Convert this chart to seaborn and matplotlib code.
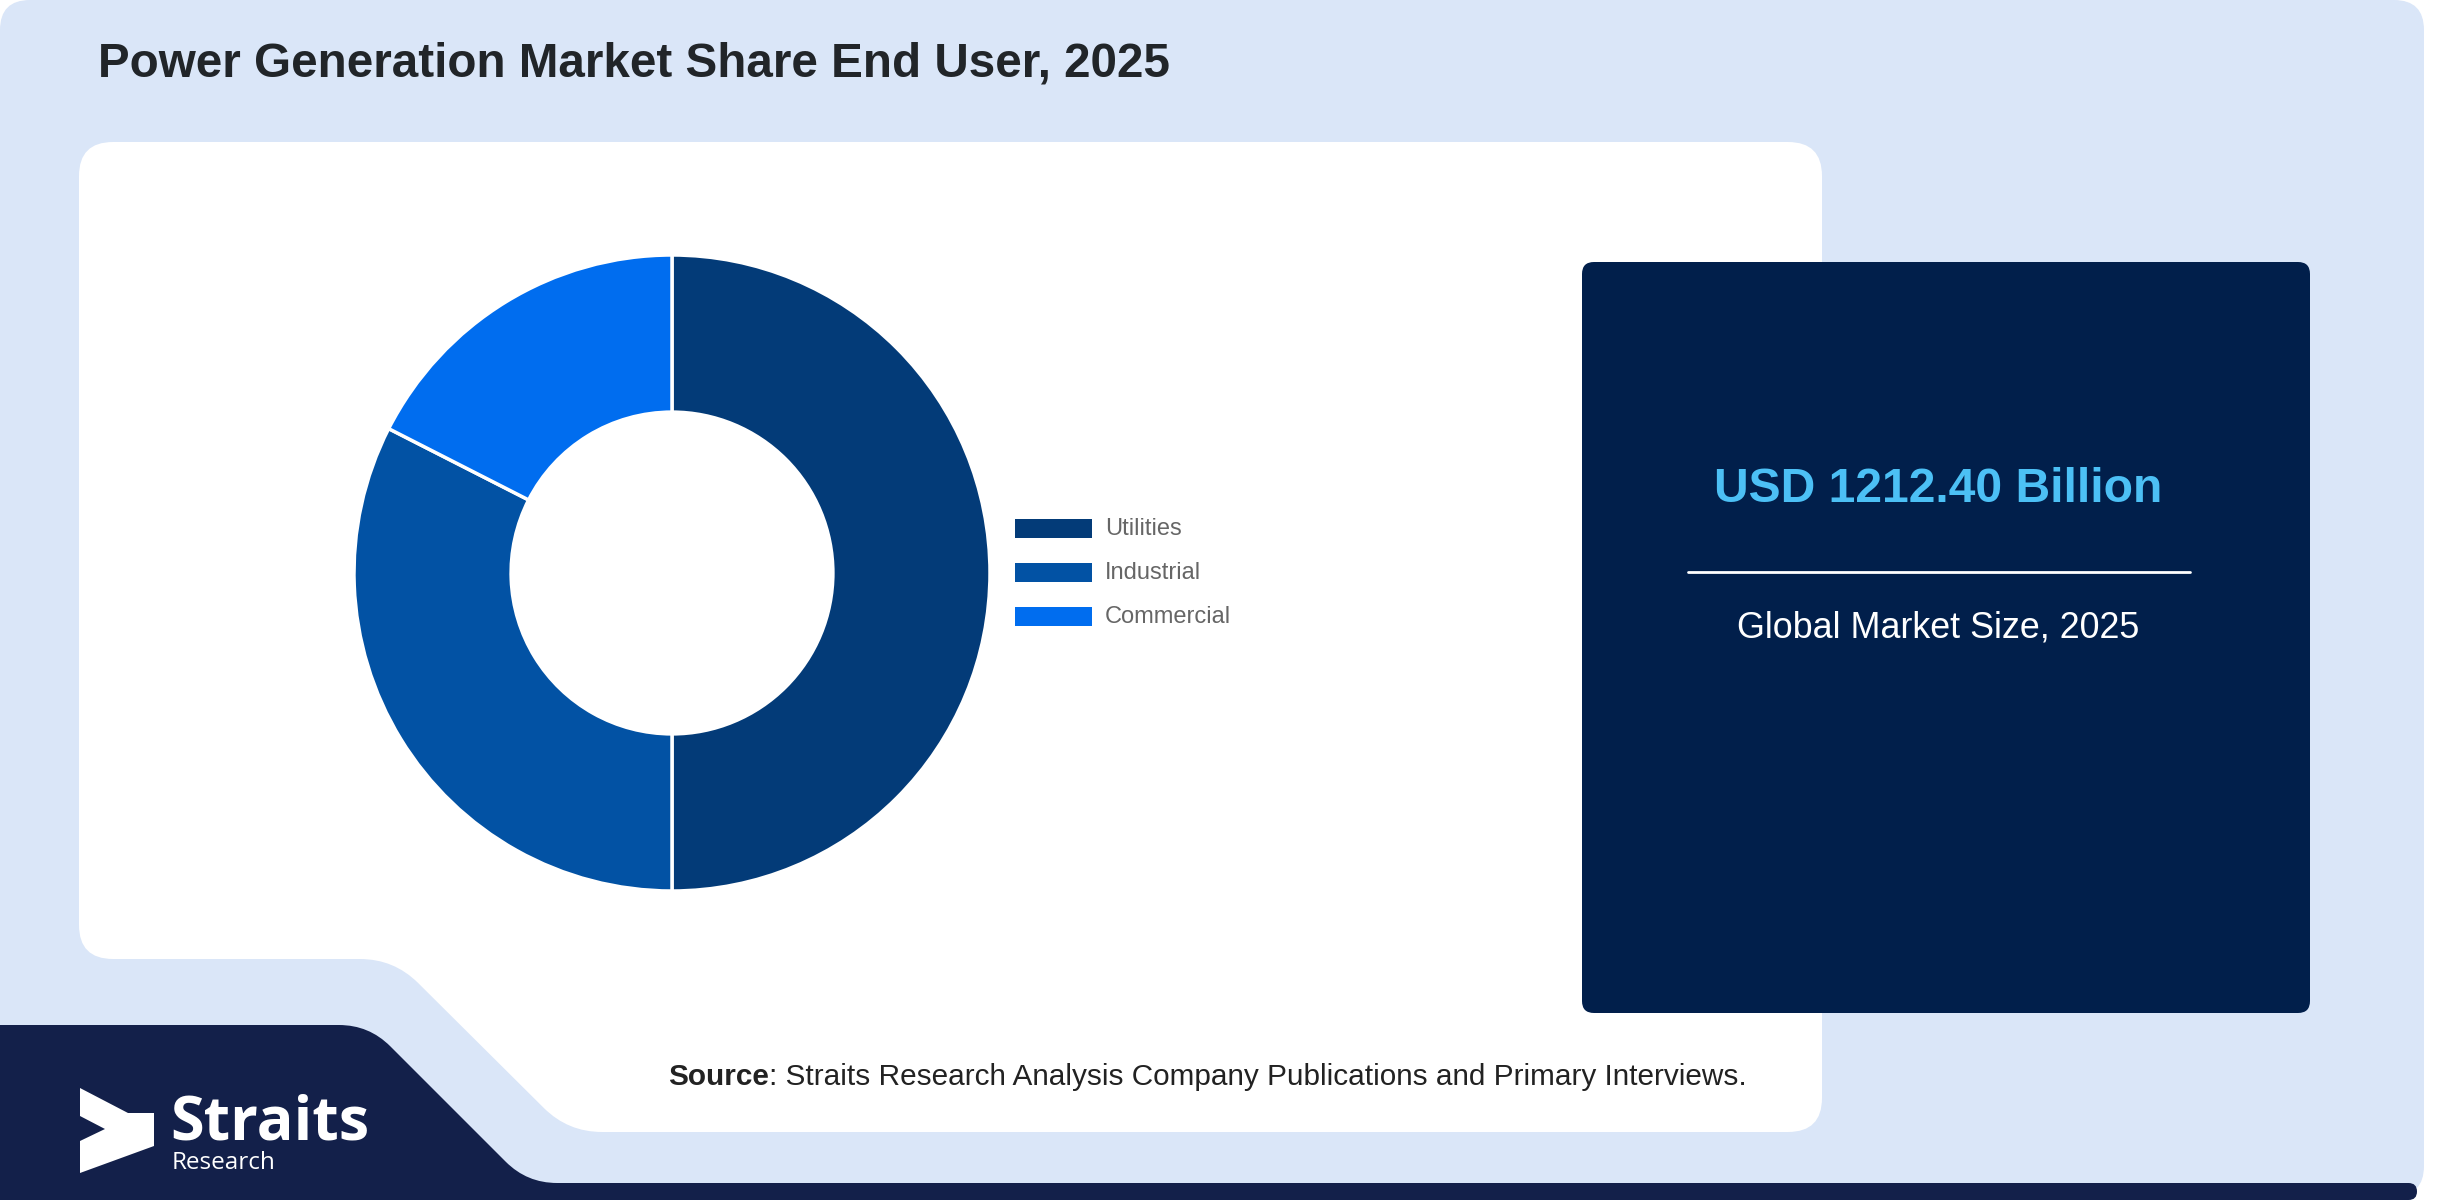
import numpy as np
import matplotlib
matplotlib.use("Agg")
import matplotlib.pyplot as plt
from matplotlib.path import Path
from matplotlib.patches import PathPatch, FancyBboxPatch, Polygon, Rectangle
import seaborn as sns

# Data
segments = ["Utilities", "Industrial", "Commercial"]
shares = [50.0, 32.5, 17.5]
seg_colors = ["#033b78", "#0252a4", "#006def"]
title = "Power Generation Market Share End User, 2025"
market_value = "USD 1212.40 Billion"
market_label = "Global Market Size, 2025"
source_text = ": Straits Research Analysis Company Publications and Primary Interviews."

sns.set_theme(style="white")
plt.rcParams["font.family"] = ["Liberation Sans", "DejaVu Sans"]

W, H = 2452, 1200
fig = plt.figure(figsize=(W / 100, H / 100), dpi=100, facecolor="white")

bg = fig.add_axes([0, 0, 1, 1])
bg.set_xlim(0, W)
bg.set_ylim(H, 0)
bg.axis("off")


def rounded_path(pts, r):
    # polygon with rounded corners (quadratic curves)
    verts, codes = [], []
    n = len(pts)
    for i in range(n):
        p0 = np.array(pts[i - 1], float)
        p1 = np.array(pts[i], float)
        p2 = np.array(pts[(i + 1) % n], float)
        d1, d2 = p0 - p1, p2 - p1
        l1, l2 = np.linalg.norm(d1), np.linalg.norm(d2)
        rr = min(r, l1 / 2, l2 / 2)
        a = p1 + d1 / l1 * rr
        b = p1 + d2 / l2 * rr
        verts.append(a)
        codes.append(Path.MOVETO if i == 0 else Path.LINETO)
        verts += [p1, b]
        codes += [Path.CURVE3, Path.CURVE3]
    verts.append(verts[0])
    codes.append(Path.CLOSEPOLY)
    return Path(verts, codes)


# light blue card
bg.add_patch(PathPatch(rounded_path([(0, 0), (2424, 0), (2424, 1196), (0, 1196)], 30),
                       fc="#dae6f8", ec="none"))
# navy bottom shape
bg.add_patch(PathPatch(rounded_path([(-30, 1025), (369, 1025), (527, 1183), (2417, 1183),
                                     (2417, 1200), (-30, 1200)], 30),
                       fc="#13204a", ec="none"))
# white panel
bg.add_patch(PathPatch(rounded_path([(79, 142), (1822, 142), (1822, 1132), (568, 1132),
                                     (394, 959), (79, 959)], 34),
                       fc="white", ec="none"))
# dark value box
bg.add_patch(FancyBboxPatch((1582, 262), 728, 751, boxstyle="round,pad=0,rounding_size=12",
                            fc="#011f4b", ec="none"))

# title
bg.text(98, 76, title, fontsize=34.3, fontweight="bold", color="#212529", va="baseline", ha="left")

# value box texts
bg.text(1938, 502, market_value, fontsize=34.6, fontweight="bold", color="#4cc0f5",
        ha="center", va="baseline")
bg.plot([1688, 2190], [572, 572], color="white", lw=2)
bg.text(1938, 638, market_label, fontsize=25.8, color="white", ha="center", va="baseline")

# source
t1 = bg.text(668, 1085, "Source", fontsize=21.4, fontweight="bold", color="#222222",
             ha="left", va="baseline")
bg.annotate(source_text, xy=(1, 0), xycoords=t1, fontsize=21.4, color="#222222",
            ha="left", va="bottom")

# logo
logo = [(80, 1088), (128, 1113), (154, 1113), (154, 1146), (80, 1173),
        (80, 1141), (105, 1129), (80, 1116)]
bg.add_patch(Polygon(logo, closed=True, fc="white", ec="none"))
bg.text(170, 1140, "Straits", fontsize=44, fontweight="bold", color="white",
        family=["Open Sans", "DejaVu Sans"], va="baseline")
bg.text(172, 1169, "Research", fontsize=17.5, color="white",
        family=["Open Sans", "DejaVu Sans"], va="baseline")

# donut
cx, cy, R = 672, 573, 318
ax = fig.add_axes([(cx - R) / W, (H - cy - R) / H, 2 * R / W, 2 * R / H])
wedges, _ = ax.pie(shares, colors=seg_colors, startangle=90, counterclock=False,
                   radius=1, wedgeprops=dict(width=0.494, edgecolor="white", linewidth=2.5))
ax.set_xlim(-1.0, 1.0)
ax.set_ylim(-1.0, 1.0)
ax.axis("off")

# legend
for i, (name, col) in enumerate(zip(segments, seg_colors)):
    bg.add_patch(Rectangle((1015, 519 + 44 * i), 77, 19, fc=col, ec="none"))
    bg.text(1105, 535 + 44 * i, name, fontsize=17, color="#666666", va="baseline", ha="left")

fig.savefig("out.png", dpi=100, facecolor="white")
